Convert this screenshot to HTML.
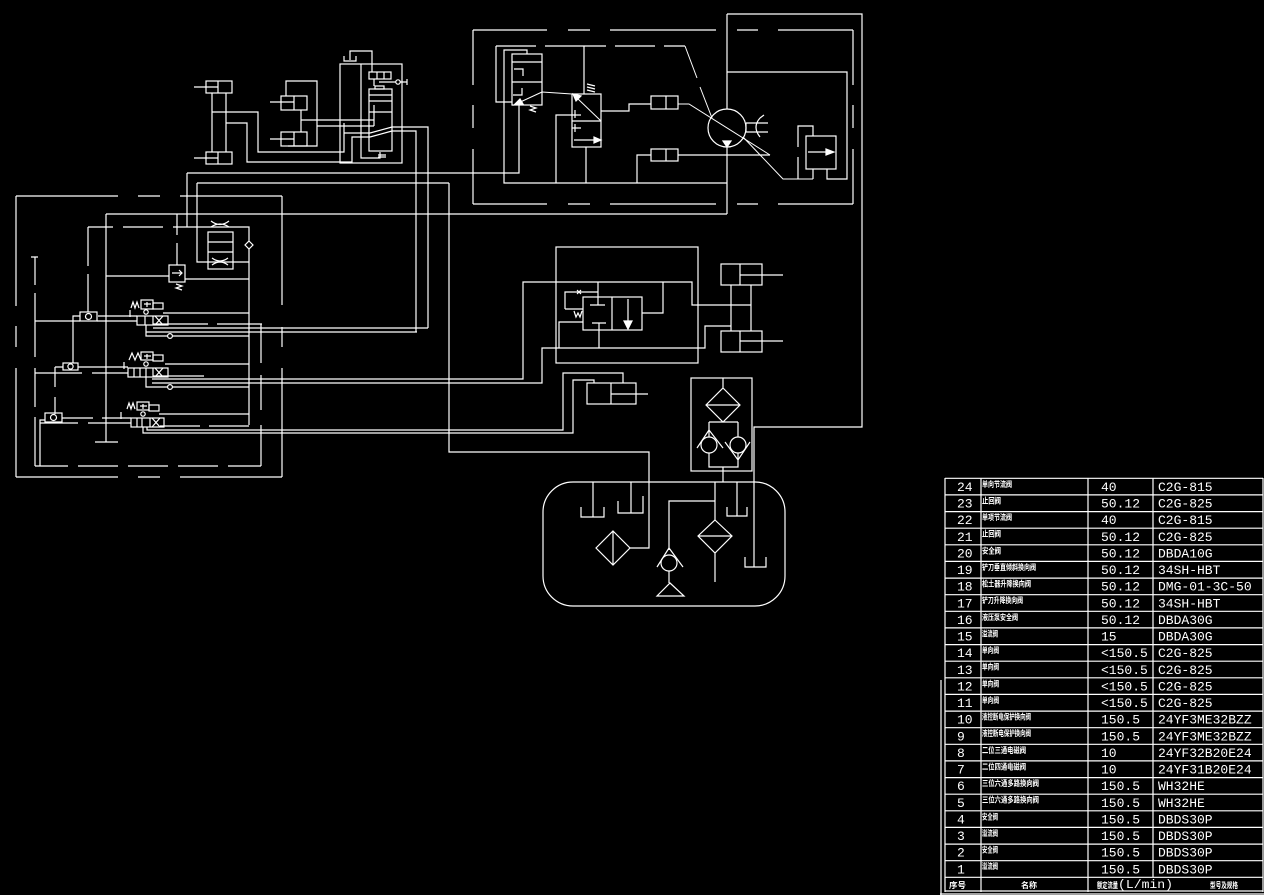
<!DOCTYPE html>
<html><head><meta charset="utf-8"><style>
html,body{margin:0;padding:0;background:#000;}
svg{display:block}
.n{font-family:"Liberation Mono",monospace;font-size:13px;fill:#fff}
.c{font-family:"Liberation Sans","Noto Sans CJK SC",sans-serif;font-size:8px;font-weight:bold;fill:#fff}
</style></head><body>
<svg width="1264" height="895" viewBox="0 0 1264 895" xmlns="http://www.w3.org/2000/svg">
<rect width="1264" height="895" fill="#000"/>
<g fill="none" stroke="#fff" stroke-width="1.2">
<!-- LEFT REGION: outer dashed box -->
<path d="M16 196H118 M138 196H160 M180 196H282 M16 477H118 M138 477H160 M180 477H282 M16 196V306 M16 326V347 M16 368V477 M282 196V305 M282 327V347 M282 368V477"/>
<!-- inner box 2 -->
<path d="M88 227H113 M123 227H163 M173 227H249V425 M88 227V266 M88 274V312 M35 466H68 M78 466H118 M128 466H168 M178 466H218 M228 466H261 M261 324V363 M261 375V410 M261 425V466 M31 257H38 M35 257V285 M35 293V357 M35 368V407 M35 417V466"/>
<path d="M106 214V442 M95 442H118 M106 214H727 M106 276H169 M177 214V235 M177 243V265 M185 279H249 M197 183V262H249 M187 173V227"/>
<rect x="169" y="265" width="16" height="17"/>
<path d="M172 273H182 M179 270L182 273L179 276"/>
<path d="M176 284L182 286L176 288L182 290"/>
<!-- accumulator -->
<rect x="208" y="232" width="25" height="37"/>
<path d="M208 242H233 M208 252H233 M211 221Q220 228 229 221 M211 227Q220 221 229 227 M212 258Q220 264 228 258 M212 265Q220 259 228 265"/>
<path d="M249 241L253 245L249 249L245 245Z" fill="#000"/>
<!-- pilot check valves -->
<rect x="80" y="312" width="17" height="9"/><circle cx="88.5" cy="316.5" r="3"/>
<rect x="63" y="363" width="15" height="7"/><circle cx="70.5" cy="366.5" r="2.6"/>
<rect x="45" y="413" width="17" height="9"/><circle cx="53.5" cy="417.5" r="3"/>
<!-- valve 1 -->
<rect x="141" y="300" width="12" height="9"/><rect x="153" y="303" width="10" height="6"/>
<path d="M147 302V307 M144 304H151 M131 308L133 302L135 308L137 302L139 308"/>
<circle cx="146" cy="312" r="2.2"/>
<rect x="137" y="316" width="31" height="9"/>
<path d="M145 316V325 M153 316V325 M155 316L163 325 M163 316L155 325 M130 310V317"/>
<path d="M163 313H249 M98 316H137 M97 321H137 M35 321H80 M153 324H208 M217 324H262 M153 328H428 M146 332H417 M146 325V336H249 M80 316H73V363"/>
<circle cx="170" cy="336" r="2.4" fill="#000"/>
<!-- valve 2 -->
<rect x="141" y="352" width="12" height="8"/><rect x="153" y="355" width="10" height="6"/>
<path d="M147 354V359 M144 356H151 M129 360L132 353L135 360L138 353L141 360"/>
<circle cx="146" cy="364" r="2.2"/>
<rect x="128" y="368" width="40" height="9"/>
<path d="M134 368V377 M140 368V377 M146 368V377 M153 368V377 M155 368L163 377 M163 368L155 377 M124 362V369"/>
<path d="M165 364H249 M78 367H128 M35 373H82 M92 373H128 M153 376H204 M152 379H523V282H692V305H731 M152 383H542V348H705V326H731 M146 377V387H249 M55 367H63 M55 367V387 M55 397V414"/>
<circle cx="170" cy="387" r="2.4" fill="#000"/>
<!-- valve 3 -->
<rect x="137" y="402" width="12" height="8"/><rect x="149" y="405" width="10" height="6"/>
<path d="M143 404V409 M140 406H147 M127 409L129 403L131 409L133 403L135 409"/>
<circle cx="143" cy="414" r="2.2"/>
<rect x="131" y="418" width="33" height="9"/>
<path d="M137 418V427 M142 418V427 M150 418V427 M152 418L160 427 M160 418L152 427 M121 412V419"/>
<path d="M159 414H249 M62 418H93 M102 418H131 M40 423H78 M88 423H131 M160 426H200 M209 426H249 M147 427V430H563V373H623V383 M143 427V433H573V380H594V383 M45 420H40V466"/>
<!-- TOP-LEFT cylinders -->
<rect x="206" y="81" width="26" height="12"/><path d="M218 81V93 M194 87H218"/>
<rect x="206" y="152" width="26" height="12"/><path d="M218 152V164 M194 158H218"/>
<path d="M212 93V152 M226 93V152 M212 112H258V152H344V123 M226 123H247V162H352V137H370"/>
<rect x="281" y="96" width="26" height="14"/><path d="M294 96V110 M270 102H294"/>
<rect x="281" y="132" width="26" height="14"/><path d="M294 132V146 M270 139H294"/>
<path d="M286 96V81H317V146H288 M301 110V132 M301 120H374 M317 126H374 M374 105V126"/>
<!-- tall component -->
<rect x="340" y="64" width="62" height="99"/>
<path d="M361 64V158H380V152"/>
<rect x="369" y="89" width="23" height="62"/>
<path d="M369 95H392 M369 101H392 M369 112H392"/>
<rect x="369" y="72" width="22" height="7"/>
<path d="M377 72V79 M384 72V79 M350 60V51H372V72 M344 56V61H356V56 M379 82H407 M407 79V85 M374 79V86"/>
<rect x="375" y="86" width="9" height="3"/>
<circle cx="398" cy="82" r="2.2" fill="#000"/>
<path d="M344 133H370 M370 133L392 127 M370 137L392 131 M392 127H428V328 M392 131H416V332 M378 155H386 M378 157H386"/>
<path d="M519 105V173H187"/>
<path d="M449 183H197 M449 183V452H649V548H630"/>
<!-- TOP-MIDDLE dashed box -->
<path d="M473 30H547 M568 30H590 M610 30H716 M737 30H758 M778 30H853 M473 204H547 M568 204H590 M610 204H716 M737 204H758 M778 204H853 M473 30V85 M473 105V128 M473 149V204 M853 30V85 M853 105V128 M853 149V204"/>
<path d="M496 46H536 M545 46H606 M615 46H655 M664 46H685"/>
<path d="M685 46L697 78 M700 87L712 118 M678 104H689L770 155" stroke-width="1"/>
<path d="M743 137L783 179H813" stroke-width="1"/>
<!-- left valve -->
<path d="M496 46V102H512"/>
<rect x="512" y="54" width="30" height="51"/>
<path d="M512 62H542 M512 82H542 M514 69H523V76 M513 95H522V88 M527 54V50H504V183H727"/>
<path d="M542 92L516 104 M542 92L572 94" stroke-width="1"/>
<polygon points="514,105 520,99 523,104" fill="#fff"/>
<path d="M530 106L536 108L530 110L536 112"/>
<!-- right valve -->
<rect x="572" y="94" width="29" height="53"/>
<path d="M572 121H601 M575 110V118 M572 115H581 M575 124V132 M572 128H581 M574 140H595 M584 46V94 M587 84L595 86 M587 87L595 89 M587 90L595 92 M556 183V115H572 M586 147V183 M601 111H629V104H651"/>
<path d="M601 121L577 98" stroke-width="1"/>
<polygon points="573,94 581,96 576,101" fill="#fff"/>
<polygon points="601,140 594,137 594,143" fill="#fff"/>
<rect x="651" y="96" width="27" height="13"/><path d="M666 96V109"/>
<rect x="651" y="149" width="27" height="12"/><path d="M666 149V161"/>
<path d="M637 183V155H651 M678 155H770"/>
<!-- motor -->
<circle cx="727" cy="128" r="19"/>
<path d="M727 14V109 M727 147V214"/>
<polygon points="723,141 731,141 727,147" fill="#fff"/>
<path d="M746 123H768 M746 132H768 M746 123V132 M760 118Q752 127 760 137 M760 118L764 115"/>
<path d="M727 14H862V427H754V567 M727 72H847V179H827V169"/>
<rect x="806" y="136" width="30" height="33"/>
<path d="M808 152H828 M798 147V126H813V136 M798 157V179 M813 169V179"/>
<polygon points="834,152 826,149 826,155" fill="#fff"/>
<!-- MIDDLE RIGHT -->
<rect x="556" y="247" width="142" height="116"/>
<rect x="583" y="297" width="59" height="33"/>
<path d="M612 297V330 M628 299V322 M598 282V305 M590 305H605 M592 323H606 M599 323V348 M565 309V292H598 M565 309H583 M577 290L581 294 M581 290L577 294 M574 311L576 317L578 313L580 317L582 311 M559 348V322H583 M642 313H663V282"/>
<polygon points="624,321 632,321 628,329" fill="#fff"/>
<rect x="721" y="264" width="41" height="21"/><path d="M740 264V285 M740 275H783"/>
<rect x="721" y="331" width="41" height="21"/><path d="M740 331V352 M740 341H783"/>
<path d="M731 285V331 M751 285V331 M731 305H751"/>
<rect x="587" y="383" width="49" height="21"/><path d="M611 383V404 M611 394H648"/>
<!-- FILTER + TANK -->
<rect x="691" y="378" width="61" height="93"/>
<path d="M723 378V388 M723 388L740 405L723 422L706 405Z M706 405H740 M709 422H738 M709 422V437 M738 422V437"/>
<circle cx="709" cy="445" r="8"/><circle cx="738" cy="445" r="8"/>
<path d="M697 448L709 430L723 448 M725 442L738 460L750 442 M709 453V467H738V453 M723 467V482"/>
<rect x="543" y="482" width="242" height="124" rx="30" ry="30"/>
<path d="M593 482V517 M581 507V517H604V507 M631 482V513 M618 501V513H643V496"/>
<path d="M613 531L630 548L613 565L596 548Z M613 531V565"/>
<path d="M715 482V520 M669 550V501H715"/>
<circle cx="669" cy="563" r="8"/>
<path d="M657 567L669 548L683 567 M669 571V583 M657 596H684L670 583Z"/>
<path d="M715 520L732 536L715 553L698 536Z M698 536H732 M715 553V582"/>
<path d="M737 482V516 M727 507V516H747V507 M745 557V567H766V557"/>
<!-- TABLE lines -->
<path d="M945 478V892 M981 478V892 M1088 478V892 M1153 478V877 M1263 478V892 M941 680V895 M940 894H1264"/>
<path d="M945 478.3H1263 M945 494.9H1263 M945 511.6H1263 M945 528.2H1263 M945 544.8H1263 M945 561.4H1263 M945 578.1H1263 M945 594.7H1263 M945 611.3H1263 M945 627.9H1263 M945 644.6H1263 M945 661.2H1263 M945 677.8H1263 M945 694.4H1263 M945 711.1H1263 M945 727.7H1263 M945 744.3H1263 M945 760.9H1263 M945 777.6H1263 M945 794.2H1263 M945 810.8H1263 M945 827.4H1263 M945 844.1H1263 M945 860.7H1263 M945 877.3H1263 M945 891H1263"/>
</g>
<!-- TABLE text -->
<g>
<text class="n" x="957" y="490.9">24</text><text class="c" x="982" y="486.8" textLength="30" lengthAdjust="spacingAndGlyphs">单向节流阀</text><text class="n" x="1101" y="490.9">40</text><text class="n" x="1158" y="490.9">C2G-815</text>
<text class="n" x="957" y="507.5">23</text><text class="c" x="982" y="503.4" textLength="19" lengthAdjust="spacingAndGlyphs">止回阀</text><text class="n" x="1101" y="507.5">50.12</text><text class="n" x="1158" y="507.5">C2G-825</text>
<text class="n" x="957" y="524.2">22</text><text class="c" x="982" y="520.1" textLength="30" lengthAdjust="spacingAndGlyphs">单项节流阀</text><text class="n" x="1101" y="524.2">40</text><text class="n" x="1158" y="524.2">C2G-815</text>
<text class="n" x="957" y="540.8">21</text><text class="c" x="982" y="536.7" textLength="19" lengthAdjust="spacingAndGlyphs">止回阀</text><text class="n" x="1101" y="540.8">50.12</text><text class="n" x="1158" y="540.8">C2G-825</text>
<text class="n" x="957" y="557.4">20</text><text class="c" x="982" y="553.3" textLength="19" lengthAdjust="spacingAndGlyphs">安全阀</text><text class="n" x="1101" y="557.4">50.12</text><text class="n" x="1158" y="557.4">DBDA10G</text>
<text class="n" x="957" y="574.0">19</text><text class="c" x="982" y="569.9" textLength="54" lengthAdjust="spacingAndGlyphs">铲刀垂直倾斜换向阀</text><text class="n" x="1101" y="574.0">50.12</text><text class="n" x="1158" y="574.0">34SH-HBT</text>
<text class="n" x="957" y="590.7">18</text><text class="c" x="982" y="586.6" textLength="49" lengthAdjust="spacingAndGlyphs">松土器升降换向阀</text><text class="n" x="1101" y="590.7">50.12</text><text class="n" x="1158" y="590.7">DMG-01-3C-50</text>
<text class="n" x="957" y="607.3">17</text><text class="c" x="982" y="603.2" textLength="41" lengthAdjust="spacingAndGlyphs">铲刀升降换向阀</text><text class="n" x="1101" y="607.3">50.12</text><text class="n" x="1158" y="607.3">34SH-HBT</text>
<text class="n" x="957" y="623.9">16</text><text class="c" x="982" y="619.8" textLength="36" lengthAdjust="spacingAndGlyphs">液压泵安全阀</text><text class="n" x="1101" y="623.9">50.12</text><text class="n" x="1158" y="623.9">DBDA30G</text>
<text class="n" x="957" y="640.5">15</text><text class="c" x="982" y="636.4" textLength="16" lengthAdjust="spacingAndGlyphs">溢流阀</text><text class="n" x="1101" y="640.5">15</text><text class="n" x="1158" y="640.5">DBDA30G</text>
<text class="n" x="957" y="657.2">14</text><text class="c" x="982" y="653.1" textLength="17" lengthAdjust="spacingAndGlyphs">单向阀</text><text class="n" x="1101" y="657.2">&lt;150.5</text><text class="n" x="1158" y="657.2">C2G-825</text>
<text class="n" x="957" y="673.8">13</text><text class="c" x="982" y="669.7" textLength="17" lengthAdjust="spacingAndGlyphs">单向阀</text><text class="n" x="1101" y="673.8">&lt;150.5</text><text class="n" x="1158" y="673.8">C2G-825</text>
<text class="n" x="957" y="690.4">12</text><text class="c" x="982" y="686.3" textLength="17" lengthAdjust="spacingAndGlyphs">单向阀</text><text class="n" x="1101" y="690.4">&lt;150.5</text><text class="n" x="1158" y="690.4">C2G-825</text>
<text class="n" x="957" y="707.0">11</text><text class="c" x="982" y="702.9" textLength="17" lengthAdjust="spacingAndGlyphs">单向阀</text><text class="n" x="1101" y="707.0">&lt;150.5</text><text class="n" x="1158" y="707.0">C2G-825</text>
<text class="n" x="957" y="723.7">10</text><text class="c" x="982" y="719.6" textLength="49" lengthAdjust="spacingAndGlyphs">液控断电保护换向阀</text><text class="n" x="1101" y="723.7">150.5</text><text class="n" x="1158" y="723.7">24YF3ME32BZZ</text>
<text class="n" x="957" y="740.3">9</text><text class="c" x="982" y="736.2" textLength="49" lengthAdjust="spacingAndGlyphs">液控断电保护换向阀</text><text class="n" x="1101" y="740.3">150.5</text><text class="n" x="1158" y="740.3">24YF3ME32BZZ</text>
<text class="n" x="957" y="756.9">8</text><text class="c" x="982" y="752.8" textLength="44" lengthAdjust="spacingAndGlyphs">二位三通电磁阀</text><text class="n" x="1101" y="756.9">10</text><text class="n" x="1158" y="756.9">24YF32B20E24</text>
<text class="n" x="957" y="773.5">7</text><text class="c" x="982" y="769.4" textLength="44" lengthAdjust="spacingAndGlyphs">二位四通电磁阀</text><text class="n" x="1101" y="773.5">10</text><text class="n" x="1158" y="773.5">24YF31B20E24</text>
<text class="n" x="957" y="790.2">6</text><text class="c" x="982" y="786.1" textLength="57" lengthAdjust="spacingAndGlyphs">三位六通多路换向阀</text><text class="n" x="1101" y="790.2">150.5</text><text class="n" x="1158" y="790.2">WH32HE</text>
<text class="n" x="957" y="806.8">5</text><text class="c" x="982" y="802.7" textLength="57" lengthAdjust="spacingAndGlyphs">三位六通多路换向阀</text><text class="n" x="1101" y="806.8">150.5</text><text class="n" x="1158" y="806.8">WH32HE</text>
<text class="n" x="957" y="823.4">4</text><text class="c" x="982" y="819.3" textLength="16" lengthAdjust="spacingAndGlyphs">安全阀</text><text class="n" x="1101" y="823.4">150.5</text><text class="n" x="1158" y="823.4">DBDS30P</text>
<text class="n" x="957" y="840.0">3</text><text class="c" x="982" y="835.9" textLength="16" lengthAdjust="spacingAndGlyphs">溢流阀</text><text class="n" x="1101" y="840.0">150.5</text><text class="n" x="1158" y="840.0">DBDS30P</text>
<text class="n" x="957" y="856.7">2</text><text class="c" x="982" y="852.6" textLength="16" lengthAdjust="spacingAndGlyphs">安全阀</text><text class="n" x="1101" y="856.7">150.5</text><text class="n" x="1158" y="856.7">DBDS30P</text>
<text class="n" x="957" y="873.3">1</text><text class="c" x="982" y="869.2" textLength="16" lengthAdjust="spacingAndGlyphs">溢流阀</text><text class="n" x="1101" y="873.3">150.5</text><text class="n" x="1158" y="873.3">DBDS30P</text>
<text class="c" x="949" y="888" textLength="17" lengthAdjust="spacingAndGlyphs">序号</text>
<text class="c" x="1021" y="888" textLength="16" lengthAdjust="spacingAndGlyphs">名称</text>
<text class="c" x="1097" y="888" textLength="21" lengthAdjust="spacingAndGlyphs">额定流量</text>
<text class="n" x="1118" y="888" style="font-size:12px" textLength="55" lengthAdjust="spacingAndGlyphs">(L/min)</text>
<text class="c" x="1210" y="888" textLength="28" lengthAdjust="spacingAndGlyphs">型号及规格</text>
</g>
</svg>
</body></html>
